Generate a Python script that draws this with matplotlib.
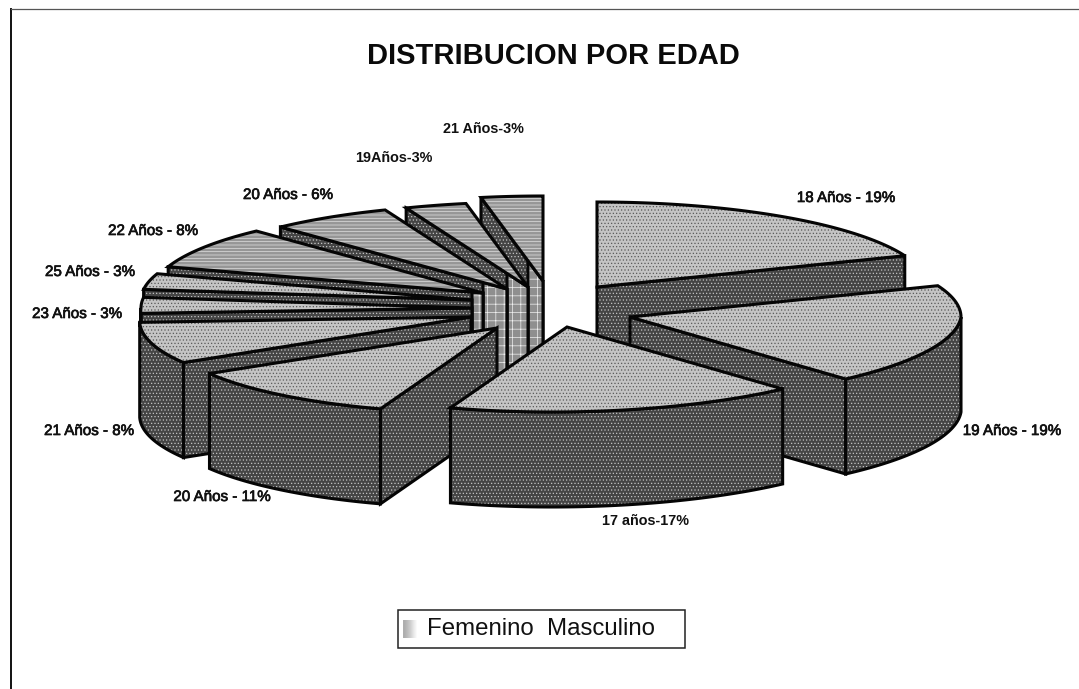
import numpy as np
import matplotlib
matplotlib.use('Agg')
import matplotlib.pyplot as plt
from matplotlib.patches import Polygon, Rectangle
import matplotlib.patheffects as pe

plt.rcParams['font.family'] = ['Liberation Sans', 'DejaVu Sans']
plt.rcParams['hatch.linewidth'] = 0.5

# clockwise from 12 o'clock
edades = ['18 Años', '19 Años', '17 años', '20 Años', '21 Años', '23 Años',
          '25 Años', '22 Años', '20 Años', '19Años', '21 Años']
porcentajes = [19, 19, 17, 11, 8, 3, 3, 8, 6, 3, 3]
etiquetas = ['18 Años - 19%', '19 Años - 19%', '17 años-17%', '20 Años - 11%',
             '21 Años - 8%', '23 Años - 3%', '25 Años - 3%', '22 Años - 8%',
             '20 Años - 6%', '19Años-3%', '21 Años-3%']
leyenda = 'Femenino  Masculino'

# layout of the exploded pie, in image pixels
RX, RY, DEPTH, SKEW = 331, 85, 95, 15
punta_x = [597, 630, 567, 497, 471, 472, 472, 483, 507, 528, 543]
punta_y = [287, 317, 327, 328, 317, 308, 300, 293, 289, 287, 281]
etiq_x = [846, 1012, 646, 222, 89, 77, 90, 153, 288, 394, 483]
etiq_y = [198, 431, 521, 497, 431, 314, 272, 231, 195, 158, 129]
negrita = [2, 9, 10]
orden = [10, 9, 8, 7, 6, 5, 4, 0, 1, 3, 2]
abajo = np.array([0, DEPTH])


def borde(i, ang):
    ang = np.radians(ang)
    x = punta_x[i] + RX * np.sin(ang) + SKEW * np.minimum(np.cos(ang), 0)
    y = punta_y[i] - RY * np.cos(ang)
    return np.column_stack([x, y])


def cara(ax, pts, fondo, trama, color_trama, z):
    ax.add_patch(Polygon(pts, closed=True, facecolor=fondo, edgecolor=color_trama,
                         hatch=trama, linewidth=0, zorder=z))
    ax.add_patch(Polygon(pts, closed=True, fill=False, edgecolor='#050505',
                         linewidth=2.2, joinstyle='miter', zorder=z + 0.1))


def pared(ax, i, ang, z):
    p = np.array([punta_x[i], punta_y[i]], dtype=float)
    c = borde(i, ang)[0]
    cara(ax, [p, c, c + abajo, p + abajo], '#454545', '.....', '#c4c4c4', z)
    if i >= 7:
        # lighter squared strip next to the tip
        sig = punta_x[i - 1] if i > 7 else punta_x[6]
        t = (p[0] - sig) / (p[0] - c[0])
        q = p + (c - p) * t
        cara(ax, [p, q, q + abajo, p + abajo], '#8f8f8f', '++', '#f0f0f0', z + 0.2)


fig = plt.figure(figsize=(10.79, 6.89), dpi=100)
ax = fig.add_axes([0, 0, 1, 1])
ax.axis('off')

limites = np.concatenate([[0], np.cumsum(porcentajes)]) * 3.6

z = 2
for i in orden:
    a, b = limites[i], limites[i + 1]
    arco = borde(i, np.linspace(a, b, 60))
    punta = [punta_x[i], punta_y[i]]
    # side walls that face the viewer
    if np.sin(np.radians(b)) > 0.01:
        pared(ax, i, b, z)
    if np.sin(np.radians(a)) < -0.01:
        pared(ax, i, a, z)
    # outer rim, front half only
    a2, b2 = max(a, 90), min(b, 270)
    if b2 > a2:
        r = borde(i, np.linspace(a2, b2, 60))
        cara(ax, np.vstack([r, (r + abajo)[::-1]]), '#454545', '.....', '#c4c4c4', z + 0.3)
    # top face
    if i >= 7:
        cara(ax, np.vstack([[punta], arco]), '#969696', '-----', '#e0e0e0', z + 0.5)
    else:
        cara(ax, np.vstack([[punta], arco]), '#c4c4c4', '.....', '#5a5a5a', z + 0.5)
    z += 1

for i, txt in enumerate(etiquetas):
    if i in negrita:
        ax.text(etiq_x[i], etiq_y[i], txt, ha='center', va='center', fontsize=10.4,
                fontweight='bold', color='#111111', zorder=30)
    else:
        ax.text(etiq_x[i], etiq_y[i], txt, ha='center', va='center', fontsize=10.9,
                color='#111111', zorder=30,
                path_effects=[pe.withStroke(linewidth=0.5, foreground='#111111')])

ax.text(553, 56, 'DISTRIBUCION POR EDAD', ha='center', va='center', fontsize=21,
        fontweight='bold', color='#0a0a0a', zorder=30)

# scanned frame, only top and left survive
ax.plot([11, 11], [9, 689], color='#111111', lw=1.4, zorder=1)
ax.plot([11, 1079], [9, 9], color='#555555', lw=0.9, zorder=1)

# legend box with the faded swatch
ax.add_patch(Rectangle((398, 610), 287, 38, facecolor='white', edgecolor='#222222',
                       linewidth=1.1, zorder=20))
ax.imshow(np.array([[0.68, 0.74, 0.82, 0.92, 1.0]]), cmap='gray', vmin=0, vmax=1,
          extent=(403, 419, 638, 620), aspect='auto', interpolation='bilinear', zorder=21)
ax.text(427, 629, leyenda, ha='left', va='center', fontsize=17.3, color='#111111', zorder=22)

ax.set_xlim(0, 1079)
ax.set_ylim(689, 0)

fig.savefig('out.png', dpi=100)
